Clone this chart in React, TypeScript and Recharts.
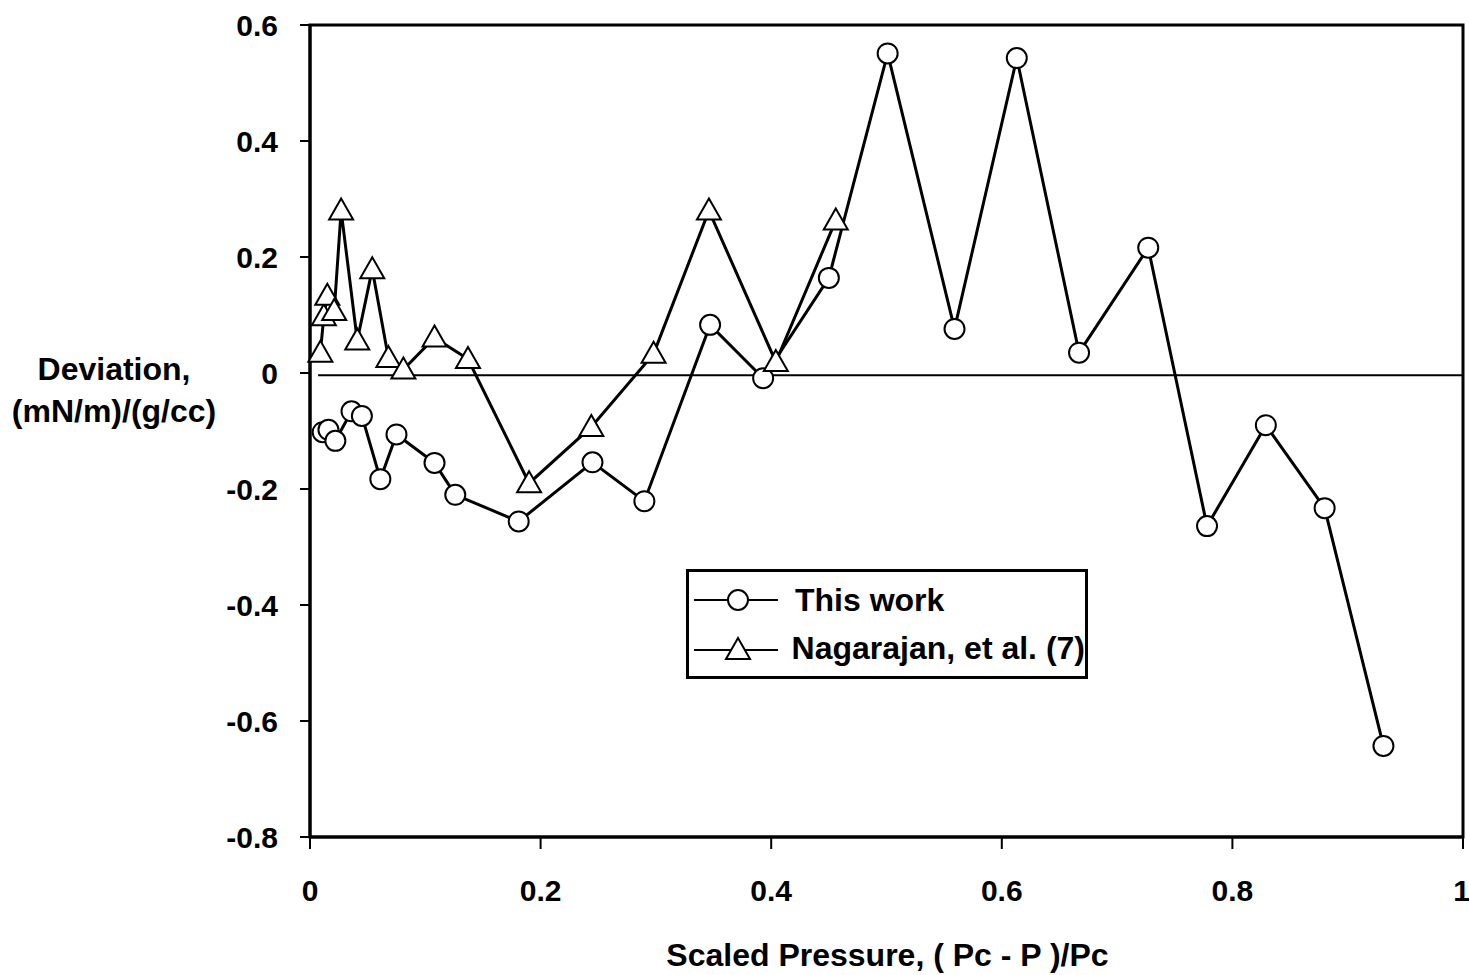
import { LineChart, Line, XAxis, YAxis, ReferenceLine, ReferenceArea } from 'recharts';

// This work (circles)
const thisWorkX = [0.011, 0.016, 0.022, 0.036, 0.045, 0.061, 0.075, 0.108, 0.126, 0.181, 0.245, 0.29, 0.347, 0.393, 0.45, 0.501, 0.559, 0.613, 0.667, 0.727, 0.778, 0.829, 0.88, 0.931];
const thisWorkY = [-0.102, -0.098, -0.117, -0.066, -0.074, -0.183, -0.106, -0.155, -0.21, -0.256, -0.154, -0.221, 0.083, -0.009, 0.164, 0.551, 0.076, 0.543, 0.035, 0.216, -0.264, -0.09, -0.233, -0.643];

// Nagarajan, et al. (7) (triangles)
const nagX = [0.009, 0.012, 0.015, 0.021, 0.027, 0.041, 0.054, 0.068, 0.081, 0.108, 0.137, 0.19, 0.244, 0.298, 0.346, 0.404, 0.456];
const nagY = [0.035, 0.098, 0.133, 0.107, 0.28, 0.056, 0.179, 0.026, 0.006, 0.061, 0.024, -0.19, -0.093, 0.033, 0.28, 0.019, 0.263];

const xTicks = [0, 0.2, 0.4, 0.6, 0.8, 1];
const yTicks = [-0.8, -0.6, -0.4, -0.2, 0, 0.2, 0.4, 0.6];

const thisWork = thisWorkX.map((x, i) => ({ x, y: thisWorkY[i] }));
const nagarajan = nagX.map((x, i) => ({ x, y: nagY[i] }));

const FONT = '"Liberation Sans", Arial, sans-serif';
const tickStyle = { fontSize: 30, fontWeight: 700, fill: '#000', fontFamily: FONT };

function fmt(v: number): string {
  if (v === 0) return '0';
  if (v === 1) return '1';
  return v.toFixed(1);
}

function Triangle(props: any) {
  const { cx, cy } = props;
  if (cx == null || cy == null) return null;
  return (
    <polygon
      points={`${cx},${cy - 12} ${cx - 12},${cy + 9} ${cx + 12},${cy + 9}`}
      fill="#fff"
      stroke="#000"
      strokeWidth={2}
    />
  );
}

function YLabel(props: any) {
  const vb = props.viewBox ?? { x: 0, y: 0, width: 0, height: 0 };
  const cx = vb.x + 114;
  return (
    <g style={{ fontFamily: FONT, fontWeight: 700, fontSize: 32 }}>
      <text x={cx} y={380} textAnchor="middle" fill="#000">Deviation,</text>
      <text x={cx} y={422} textAnchor="middle" fill="#000">(mN/m)/(g/cc)</text>
    </g>
  );
}

function XLabel(props: any) {
  const vb = props.viewBox ?? { x: 0, y: 0, width: 0, height: 0 };
  return (
    <text
      x={vb.x + vb.width / 2 + 1}
      y={966}
      textAnchor="middle"
      fill="#000"
      style={{ fontFamily: FONT, fontWeight: 700, fontSize: 32 }}
    >
      Scaled Pressure, ( Pc - P )/Pc
    </text>
  );
}

function LegendBox() {
  const row = { display: 'flex', alignItems: 'center', height: 48 } as const;
  return (
    <div
      style={{
        position: 'absolute',
        left: 686,
        top: 569,
        width: 396,
        height: 100,
        border: '3px solid #000',
        background: '#fff',
        fontFamily: FONT,
        fontWeight: 700,
        fontSize: 32,
        paddingTop: 4,
        whiteSpace: 'nowrap',
      }}
    >
      <div style={row}>
        <svg width={103} height={30} style={{ marginLeft: 3 }}>
          <line x1={2} y1={15} x2={86} y2={15} stroke="#000" strokeWidth={2} />
          <circle cx={46} cy={15} r={10} fill="#fff" stroke="#000" strokeWidth={2} />
        </svg>
        <span>This work</span>
      </div>
      <div style={row}>
        <svg width={103} height={30} style={{ marginLeft: 3 }}>
          <line x1={2} y1={17} x2={86} y2={17} stroke="#000" strokeWidth={2} />
          <polygon points="46,5 34,26 58,26" fill="#fff" stroke="#000" strokeWidth={2} />
        </svg>
        <span>Nagarajan, et al. (7)</span>
      </div>
    </div>
  );
}

export default function App() {
  return (
    <div
      style={{
        position: 'absolute',
        left: 0,
        top: 0,
        width: 1469,
        height: 975,
        background: '#fff',
        fontFamily: FONT,
      }}
    >
      <LineChart
        width={1469}
        height={975}
        margin={{ top: 25, right: 6, bottom: 0, left: 0 }}
      >
        <XAxis
          type="number"
          dataKey="x"
          domain={[0, 1]}
          ticks={xTicks}
          tickFormatter={fmt}
          height={138}
          tick={tickStyle}
          tickSize={12}
          tickMargin={31}
          axisLine={{ stroke: '#000', strokeWidth: 3 }}
          tickLine={{ stroke: '#000', strokeWidth: 2 }}
          allowDuplicatedCategory={false}
          label={<XLabel />}
        />
        <YAxis
          type="number"
          dataKey="y"
          domain={[-0.8, 0.6]}
          ticks={yTicks}
          tickFormatter={fmt}
          width={310}
          tick={tickStyle}
          tickSize={10}
          tickMargin={22}
          axisLine={{ stroke: '#000', strokeWidth: 3 }}
          tickLine={{ stroke: '#000', strokeWidth: 2 }}
          label={<YLabel />}
        />
        <ReferenceArea
          x1={0}
          x2={1}
          y1={-0.8}
          y2={0.6}
          fill="none"
          stroke="#000"
          strokeWidth={3}
          fillOpacity={0}
          ifOverflow="visible"
        />
        <ReferenceLine
          segment={[
            { x: 0.007, y: -0.004 },
            { x: 1, y: -0.004 },
          ]}
          stroke="#000"
          strokeWidth={2}
        />
        <Line
          data={thisWork}
          dataKey="y"
          type="linear"
          stroke="#000"
          strokeWidth={3}
          dot={{ r: 10, fill: '#fff', stroke: '#000', strokeWidth: 2 }}
          activeDot={false}
          isAnimationActive={false}
        />
        <Line
          data={nagarajan}
          dataKey="y"
          type="linear"
          stroke="#000"
          strokeWidth={3}
          dot={(p: any) => <Triangle key={`t-${p.index}`} {...p} />}
          activeDot={false}
          isAnimationActive={false}
        />
      </LineChart>
      <LegendBox />
    </div>
  );
}
